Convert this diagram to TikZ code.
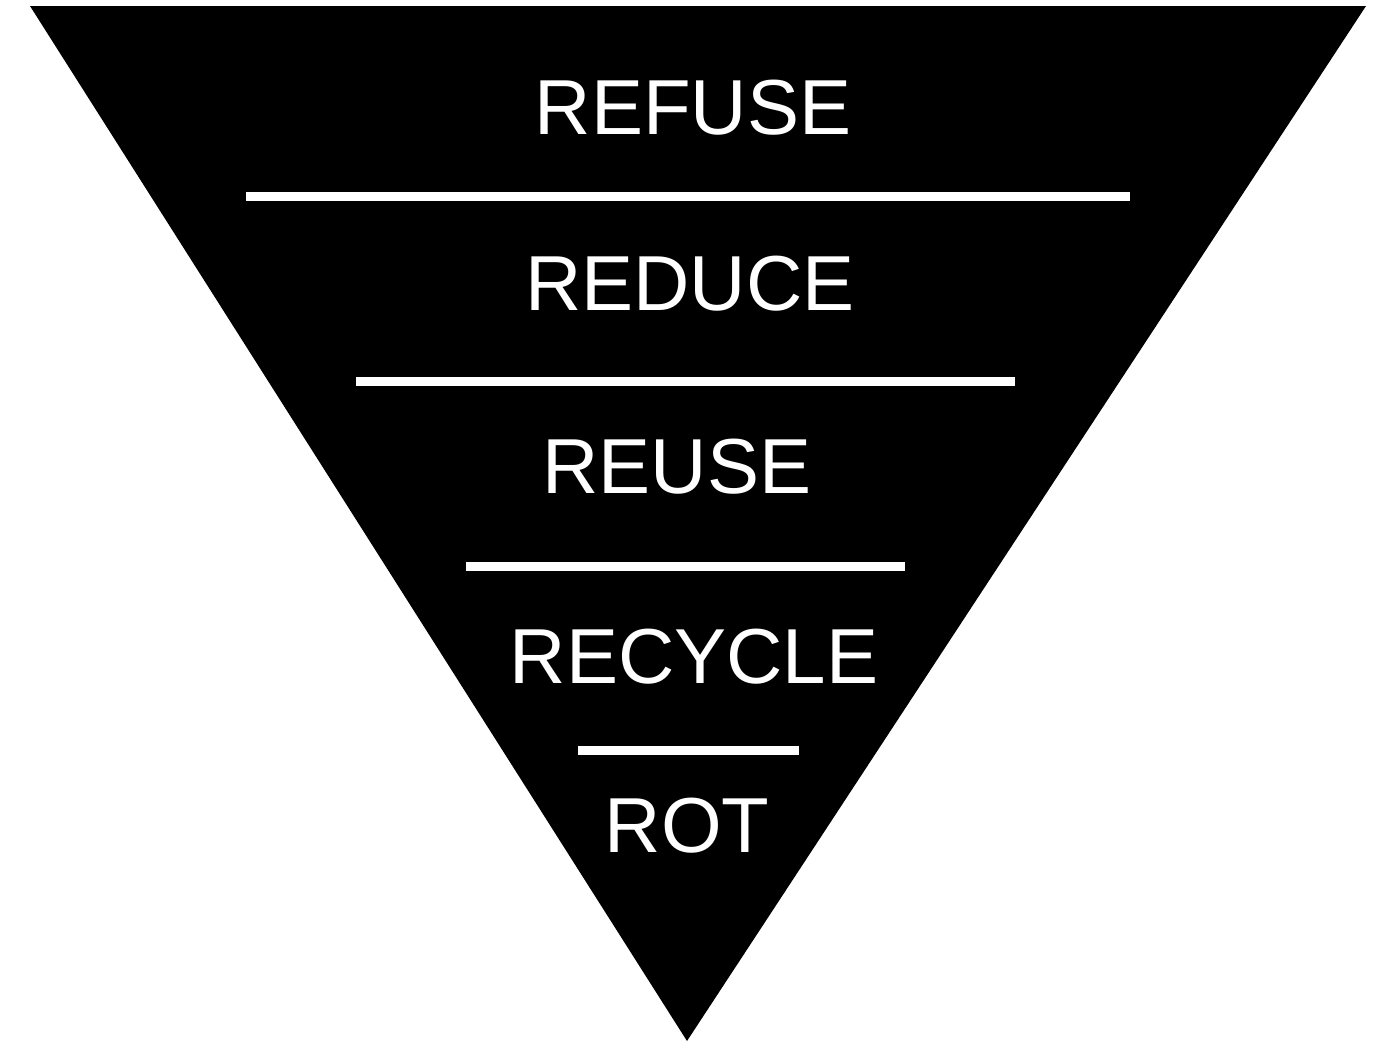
\documentclass[tikz,border=0pt]{standalone}
\usepackage{fontspec}
\setmainfont{Liberation Sans}
\usepackage{xcolor}
\usepackage{tikz}
\definecolor{NegroPiramide}{RGB}{0,0,0}
\definecolor{BlancoTexto}{RGB}{255,255,255}
\tikzset{
    etapa/.style={text=BlancoTexto, inner sep=0pt, anchor=base,
        font=\fontsize{78}{90}\selectfont},
    separador/.style={draw=BlancoTexto, line width=9pt}
}

\begin{document}
\begin{tikzpicture}[x=1pt, y=-1pt]
    \useasboundingbox (0,0) rectangle (1376,1042);
    \coordinate (A) at (30,6);
    \coordinate (B) at (1366,6);
    \coordinate (C) at (687,1041);
    \fill[NegroPiramide] (A) -- (B) -- (C) -- cycle;

    \node[etapa] (refuse)  at (693,134) {REFUSE};
    \node[etapa] (reduce)  at (690,310) {REDUCE};
    \node[etapa] (reuse)   at (677,493) {REUSE};
    \node[etapa] (recycle) at (694,683) {RECYCLE};
    \node[etapa] (rot)     at (687,852) {ROT};

    \coordinate (L1a) at (246,196);  \coordinate (L1b) at (1130,196);
    \coordinate (L2a) at (356,381);  \coordinate (L2b) at (1015,381);
    \coordinate (L3a) at (466,566);  \coordinate (L3b) at (905,566);
    \coordinate (L4a) at (578,750);  \coordinate (L4b) at (799,750);
    \foreach \i in {1,...,4}
        \draw[separador] (L\i a) -- (L\i b);
\end{tikzpicture}
\end{document}
